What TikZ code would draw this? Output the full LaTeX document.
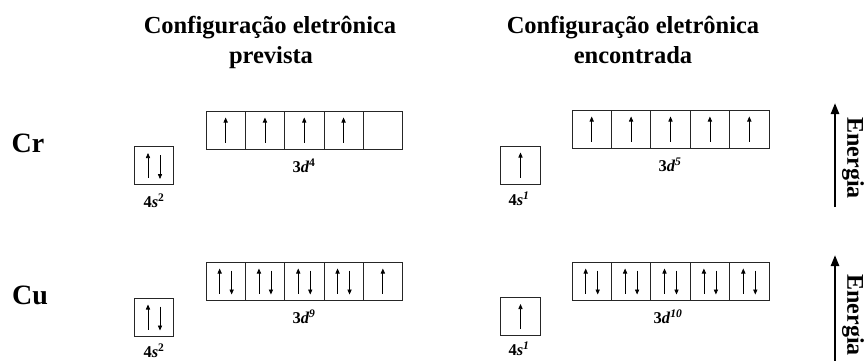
\documentclass[tikz,border=0pt]{standalone}
\usepackage{fontspec}
\setmainfont{Liberation Serif}
\usetikzlibrary{arrows.meta}
\tikzset{
  orb/.style={draw=black!85, line width=0.8pt, rectangle, minimum width=39.3pt, minimum height=38pt, inner sep=0pt},
  spin/.style={line width=0.75pt, -{Triangle[length=5pt,width=4.2pt]}},
  title/.style={font=\fontsize{24.5}{30}\selectfont\bfseries, anchor=base, inner sep=0pt},
  elem/.style={font=\fontsize{28}{32}\selectfont\bfseries, inner sep=0pt},
  lab/.style={font=\fontsize{16.5}{18}\selectfont\bfseries, inner sep=0pt},
  labb/.style={lab, anchor=base, text depth=0pt},
  energy/.style={line width=2.4pt, -{Triangle[length=11pt,width=8pt]}},
  enlab/.style={font=\fontsize{24}{28}\selectfont\bfseries, rotate=-90, inner sep=0pt}
}
\newcommand{\upe}[1]{\draw[spin] ([yshift=-12.5pt]#1.center) -- ([yshift=12.5pt]#1.center);}
\newcommand{\pair}[1]{%
  \draw[spin] ([xshift=-6pt,yshift=-12.5pt]#1.center) -- ([xshift=-6pt,yshift=12.5pt]#1.center);
  \draw[spin] ([xshift=6pt,yshift=10.5pt]#1.center) -- ([xshift=6pt,yshift=-13.5pt]#1.center);}
\begin{document}
\begin{tikzpicture}[x=1pt,y=-1pt]
\useasboundingbox (0,0) rectangle (865,360);
\clip (0,0) rectangle (865,360);
% titles
\node[title] (t1a) at (270,33) {Configuração eletrônica};
\node[title] (t1b) at (271,63) {prevista};
\node[title] (t2a) at (633,33) {Configuração eletrônica};
\node[title] (t2b) at (633,63) {encontrada};
% elements
\node[elem] (cr) at (28,143) {Cr};
\node[elem] (cu) at (30,295) {Cu};
% ---- Cr predicted
\node[orb] (crs) at (154,165.5) {};
\foreach \i in {1,...,5} {\node[orb] (crd\i) at (206+19.65+39.3*\i-39.3,130) {};}
\node[lab] (crsl) at (154,201) {4\textit{s}\textsuperscript{2}};
\node[lab] (crdl) at (304,166) {3\textit{d}\textsuperscript{4}};
\pair{crs}
\upe{crd1}\upe{crd2}\upe{crd3}\upe{crd4}
% ---- Cr found
\node[orb] (crs2) at (520.5,165) {};
\foreach \i in {1,...,5} {\node[orb] (crf\i) at (572+19.7+39.4*\i-39.4,129) {};}
\node[lab] (crsl2) at (519,199) {4\textit{s}\textsuperscript{\textit{1}}};
\node[lab] (crdl2) at (670,165) {3\textit{d}\textsuperscript{\textit{5}}};
\upe{crs2}
\upe{crf1}\upe{crf2}\upe{crf3}\upe{crf4}\upe{crf5}
% ---- Cu predicted
\node[orb] (cus) at (154,317) {};
\foreach \i in {1,...,5} {\node[orb] (cud\i) at (206+19.65+39.3*\i-39.3,281) {};}
\node[labb] (cusl) at (154,357.5) {4\textit{s}\textsuperscript{2}};
\node[lab] (cudl) at (304,317) {3\textit{d}\textsuperscript{\textit{9}}};
\pair{cus}
\pair{cud1}\pair{cud2}\pair{cud3}\pair{cud4}\upe{cud5}
% ---- Cu found
\node[orb] (cus2) at (520.5,316.5) {};
\foreach \i in {1,...,5} {\node[orb] (cuf\i) at (572+19.7+39.4*\i-39.4,281) {};}
\node[lab] (cusl2) at (519,349) {4\textit{s}\textsuperscript{\textit{1}}};
\node[lab] (cudl2) at (668,317) {3\textit{d}\textsuperscript{\textit{10}}};
\upe{cus2}
\pair{cuf1}\pair{cuf2}\pair{cuf3}\pair{cuf4}\pair{cuf5}
% energy arrows
\coordinate (e1b) at (835,207);
\coordinate (e1t) at (835,103);
\draw[energy] (e1b) -- (e1t);
\node[enlab] (en1) at (853,158) {Energia};
\coordinate (e2b) at (835,370);
\coordinate (e2t) at (835,255);
\draw[energy] (e2b) -- (e2t);
\node[enlab] (en2) at (853,315) {Energia};
\end{tikzpicture}
\end{document}
